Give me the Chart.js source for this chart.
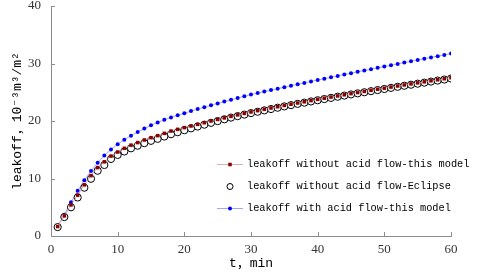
<!DOCTYPE html>
<html>
<head>
<meta charset="utf-8">
<script src="https://cdn.jsdelivr.net/npm/chart.js@4.4.1/dist/chart.umd.min.js"></script>
<style>
  html, body { margin: 0; padding: 0; background: #fff; }
  #wrap { width: 480px; height: 280px; position: relative; }
</style>
</head>
<body>
<div id="wrap"><canvas id="chart" width="480" height="280"></canvas></div>
<script>
// time, min
var t = [1,2,3,4,5,6,7,8,9,10,11,12,13,14,15,16,17,18,19,20,
         21,22,23,24,25,26,27,28,29,30,31,32,33,34,35,36,37,38,39,40,
         41,42,43,44,45,46,47,48,49,50,51,52,53,54,55,56,57,58,59,60]

// leakoff without acid flow - this model
var noAcidModel = [1.65,3.5,5.4,7.1,8.9,10.5,11.9,12.9,13.9,14.6,15.25,15.8,16.25,16.7,17.1,17.45,17.85,18.25,18.55,18.85,
  19.13,19.41,19.7,20.0,20.27,20.54,20.8,21.06,21.32,21.57,21.8,22.03,22.26,22.48,22.7,22.92,23.13,23.34,23.55,23.76,
  23.96,24.16,24.36,24.56,24.76,24.95,25.14,25.33,25.52,25.71,25.9,26.09,26.27,26.45,26.63,26.81,26.99,27.17,27.35,27.53]

// leakoff without acid flow - Eclipse
var noAcidEclipse = [1.55,3.3,5.0,6.7,8.4,9.95,11.35,12.35,13.4,14.1,14.7,15.25,15.7,16.15,16.55,16.9,17.3,17.7,18.05,18.4,
  18.72,19.04,19.36,19.68,19.98,20.3,20.59,20.85,21.11,21.37,21.61,21.85,22.08,22.31,22.54,22.76,22.98,23.19,23.4,23.61,
  23.82,24.02,24.22,24.42,24.62,24.81,25.0,25.19,25.38,25.57,25.76,25.95,26.13,26.31,26.49,26.67,26.85,27.03,27.21,27.39]

// leakoff with acid flow - this model
var acidModel = [1.75,3.7,5.85,7.85,9.7,11.3,12.75,14.0,15.05,15.95,16.75,17.45,18.1,18.7,19.25,19.75,20.2,20.6,21.0,21.35,
  21.72,22.07,22.41,22.74,23.06,23.37,23.68,23.99,24.3,24.6,24.86,25.12,25.38,25.63,25.88,26.13,26.38,26.63,26.88,27.12,
  27.36,27.6,27.84,28.08,28.32,28.55,28.78,29.01,29.24,29.47,29.7,29.93,30.16,30.39,30.62,30.84,31.06,31.28,31.5,31.72]

var labels = ["leakoff without acid flow-this model", "leakoff without acid flow-Eclipse", "leakoff with acid flow-this model"]
var xTicks = [0, 10, 20, 30, 40, 50, 60]
var yTicks = [0, 10, 20, 30, 40]

function pts(arr) {
  return t.map(function (v, i) { return {x: v, y: arr[i]} })
}

var mono = '"Liberation Mono", "DejaVu Sans Mono", "Noto Sans CJK SC", monospace'
var serif = '"Liberation Serif", "DejaVu Serif", serif'

// inward tick marks + legend inside the plot
var extras = {
  id: 'extras',
  afterDraw: function (chart) {
    var ctx = chart.ctx
    var xs = chart.scales.x, ys = chart.scales.y
    var a = chart.chartArea
    ctx.save()
    ctx.strokeStyle = '#8c8c8c'
    ctx.lineWidth = 1
    ctx.beginPath()
    xTicks.forEach(function (v) {
      var px = Math.round(xs.getPixelForValue(v)) + 0.5
      ctx.moveTo(px, a.bottom); ctx.lineTo(px, a.bottom - 4)
    })
    yTicks.forEach(function (v) {
      var py = Math.round(ys.getPixelForValue(v)) + 0.5
      ctx.moveTo(a.left, py); ctx.lineTo(a.left + 4, py)
    })
    ctx.stroke()

    // legend
    var rows = [164, 186, 208]
    ctx.font = '10.3px ' + mono
    ctx.textBaseline = 'middle'
    chart.data.datasets.forEach(function (ds, i) {
      var y = rows[i]
      if (ds.showLine !== false) {
        ctx.strokeStyle = ds.borderColor
        ctx.lineWidth = 1
        ctx.beginPath(); ctx.moveTo(217, y + 0.5); ctx.lineTo(243, y + 0.5); ctx.stroke()
      }
      ctx.fillStyle = ds.pointBackgroundColor
      ctx.strokeStyle = ds.pointBorderColor
      ctx.lineWidth = ds.pointBorderWidth
      Chart.helpers.drawPoint(ctx, {
        pointStyle: ds.pointStyle, rotation: 0,
        radius: Math.min(ds.pointRadius, 3), borderWidth: ds.pointBorderWidth
      }, 230, y + 0.5)
      ctx.fillStyle = '#000'
      ctx.fillText(labels[i], 247, y)
    })
    ctx.restore()
  }
}

var ctx = document.getElementById('chart').getContext('2d')

var myChart = new Chart(ctx, {
  type: 'line',
  data: {
    datasets: [{
      label: labels[0],
      data: pts(noAcidModel),
      borderColor: 'rgba(200,145,145,0.7)',
      borderWidth: 1,
      pointStyle: 'rect',
      pointRadius: 2.5,
      pointBackgroundColor: '#8b0000',
      pointBorderColor: '#8b0000',
      pointBorderWidth: 0
    }, {
      label: labels[1],
      data: pts(noAcidEclipse),
      showLine: false,
      pointStyle: 'circle',
      pointRadius: 3.6,
      pointBackgroundColor: '#ffffff',
      pointBorderColor: '#000000',
      pointBorderWidth: 1
    }, {
      label: labels[2],
      data: pts(acidModel),
      borderColor: 'rgba(140,140,255,0.8)',
      borderWidth: 1,
      pointStyle: 'circle',
      pointRadius: 2,
      pointBackgroundColor: '#0000ff',
      pointBorderColor: '#0000ff',
      pointBorderWidth: 0
    }]
  },
  options: {
    responsive: false,
    animation: false,
    layout: {padding: {top: 0, right: 29, left: 0, bottom: 0}},
    plugins: {legend: {display: false}, tooltip: {enabled: false}},
    scales: {
      x: {
        type: 'linear',
        min: 0, max: 60,
        afterBuildTicks: function (s) { s.ticks = xTicks.map(function (v) { return {value: v} }) },
        afterFit: function (s) { s.height = 44 },
        grid: {display: false, drawTicks: false},
        border: {display: true, color: '#8c8c8c', width: 1},
        ticks: {color: '#333', padding: 7, font: {family: serif, size: 13, lineHeight: 1}, maxRotation: 0},
        title: {display: true, text: 't，min', color: '#000', font: {family: mono, size: 13}, padding: {top: 0, bottom: 9}}
      },
      y: {
        min: 0, max: 40,
        afterBuildTicks: function (s) { s.ticks = yTicks.map(function (v) { return {value: v} }) },
        afterFit: function (s) { s.width = 51; s.paddingTop = 6; s.paddingBottom = 6 },
        grid: {display: false, drawTicks: false},
        border: {display: true, color: '#8c8c8c', width: 1},
        ticks: {color: '#333', padding: 10, font: {family: serif, size: 13, lineHeight: 1}},
        title: {display: true, text: 'leakoff，10⁻³m³/m²', color: '#000', font: {family: mono, size: 13}, padding: {top: 10, bottom: 0}}
      }
    }
  },
  plugins: [extras]
})
</script>
</body>
</html>
